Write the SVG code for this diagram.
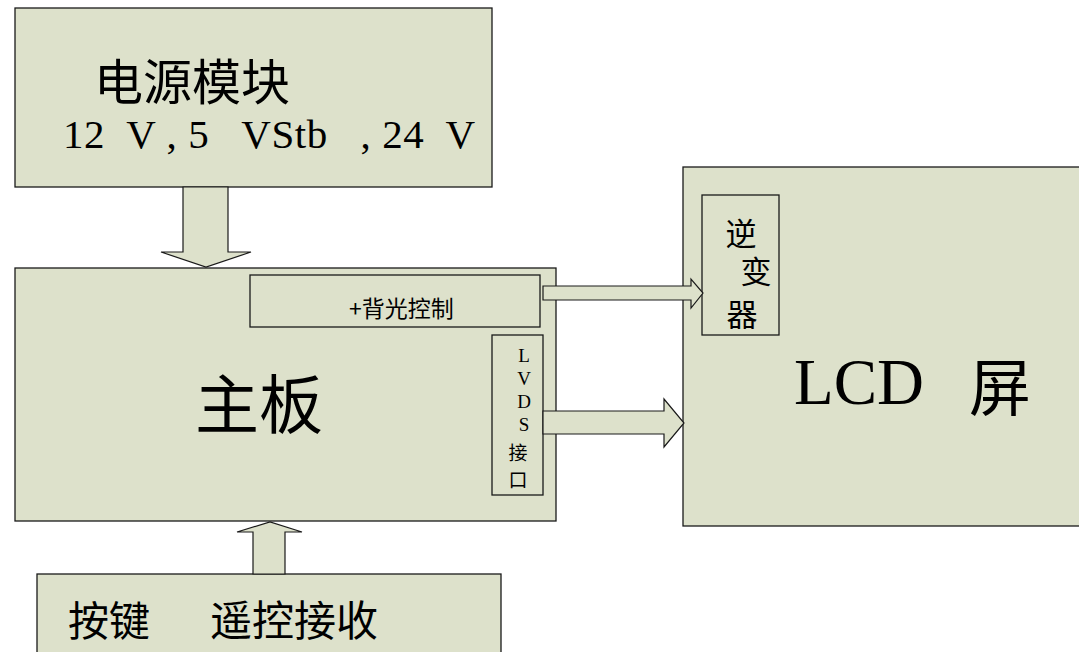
<svg xmlns="http://www.w3.org/2000/svg" width="1079" height="652" viewBox="0 0 1079 652">
<style>
.box{fill:#dde1cb;stroke:#1a1a1a;stroke-width:1.3}
.arr{fill:#dde1cb;stroke:#1a1a1a;stroke-width:1.2}
.cjk{font-family:"Noto Sans CJK SC","Liberation Sans",sans-serif;fill:#000}
.ser{font-family:"Liberation Serif","Noto Sans CJK SC",serif;fill:#000}
</style>
<rect width="1079" height="652" fill="#fff"/>
<g id="power">
<rect class="box" x="15" y="8" width="477" height="179"/>
<text class="cjk" x="94" y="100" font-size="49">电源模块</text>
<text class="ser" x="63" y="148" font-size="41" textLength="412" lengthAdjust="spacing" xml:space="preserve">12  V , 5   VStb   , 24  V</text>
</g>
<g id="mainboard">
<rect class="box" x="15" y="268" width="541" height="253"/>
<text class="cjk" x="195" y="428" font-size="64">主板</text>
</g>
<g id="backlight">
<rect class="box" x="250" y="275" width="290" height="52"/>
<text class="cjk" x="349" y="317" font-size="23">+背光控制</text>
</g>
<g id="lvds">
<rect class="box" x="492" y="335" width="51" height="160"/>
<text class="ser" x="524" y="362" font-size="19" text-anchor="middle">L</text>
<text class="ser" x="524" y="385" font-size="19" text-anchor="middle">V</text>
<text class="ser" x="524" y="408" font-size="19" text-anchor="middle">D</text>
<text class="ser" x="524" y="431" font-size="19" text-anchor="middle">S</text>
<text class="cjk" x="518" y="460" font-size="19" text-anchor="middle">接</text>
<text class="cjk" x="518" y="487" font-size="19" text-anchor="middle">口</text>
</g>
<g id="lcd">
<rect class="box" x="683" y="167" width="400" height="359"/>
<text class="ser" x="794" y="404" font-size="65">LCD</text>
<text class="cjk" x="969" y="411" font-size="62">屏</text>
</g>
<g id="inverter">
<rect class="box" x="702" y="195" width="77" height="140"/>
<text class="cjk" x="741" y="245" font-size="31" text-anchor="middle">逆</text>
<text class="cjk" x="756" y="283" font-size="31" text-anchor="middle">变</text>
<text class="cjk" x="742" y="326" font-size="31" text-anchor="middle">器</text>
</g>
<g id="input">
<rect class="box" x="37" y="574" width="464" height="90"/>
<text class="cjk" x="68" y="636" font-size="41">按键</text>
<text class="cjk" x="210" y="636" font-size="42">遥控接收</text>
</g>
<g id="connectors">
<polygon class="arr" points="183,187 228,187 228,252 251,252 206,267 161,252 183,252"/>
<polygon class="arr" points="543,286 691,286 691,279 703,293 691,308 691,300 543,300"/>
<polygon class="arr" points="543,411 664,411 664,399 684,423 664,447 664,434 543,434"/>
<polygon class="arr" points="253,574 285,574 285,532 302,532 270,522 237,532 253,532"/>
</g>
</svg>
